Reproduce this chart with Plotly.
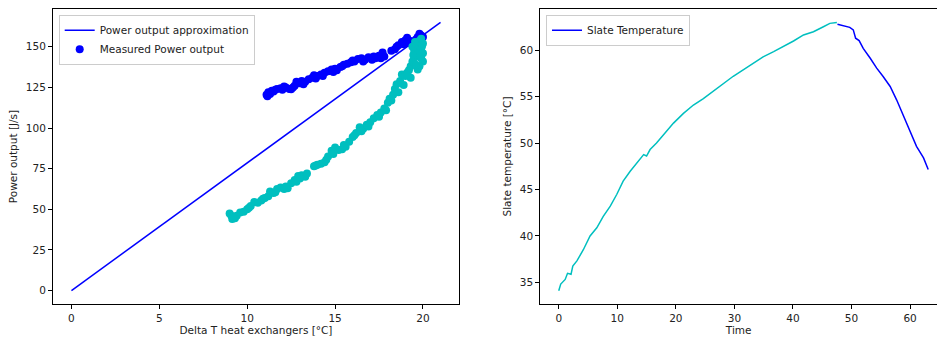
import plotly.graph_objects as go

# ---- Left panel data ----
approx_x = [0, 21]
approx_y = [0, 165]

meas_hot_x = [11.1, 11.2, 11.3, 11.4, 11.5, 11.7, 11.9, 12.0, 12.2, 12.4, 12.5, 12.7, 12.8, 13.0,
              13.1, 13.3, 13.5, 13.7, 13.9, 14.0, 14.2, 14.4, 14.6, 14.8, 15.0, 15.1, 15.3, 15.5,
              15.7, 15.9, 16.1, 16.3, 16.5, 16.7, 16.9, 17.1, 17.3, 17.5, 17.7, 17.8, 18.2, 18.4,
              18.6, 18.8, 19.0, 19.1, 19.3, 19.5, 19.7, 19.8, 19.9, 20.0,
              11.15, 11.6, 12.1, 12.6, 13.2, 13.8, 14.3, 14.9, 15.4, 16.0, 16.6, 17.2, 17.6,
              18.5, 18.9, 19.2, 19.6, 19.4]
meas_hot_y = [120.5, 122, 121, 123, 122.5, 124, 124.5, 123.5, 125, 124, 123.8, 126, 128.5, 127.5,
              129, 128.5, 130, 131, 130.5, 132, 133, 134, 135, 136, 136.5, 135.5, 137.5, 139,
              139.5, 140.5, 141, 142.5, 143, 142, 143.5, 142, 143, 144.5, 146.5, 144, 147.5, 148.5,
              151, 153, 154, 155.5, 153.5, 152, 156, 158, 157, 156,
              119.5, 123.5, 125.5, 125, 127, 132.5, 132, 134.5, 138, 141.5, 141, 144, 143,
              150, 151.5, 152.5, 154.5, 151]

meas_cool_x = [9.0, 9.1, 9.2, 9.3, 9.4, 9.6, 9.8, 10.0, 10.2, 10.4, 10.6, 10.8, 11.0, 11.2, 11.3,
               11.5, 11.7, 11.9, 12.1, 12.3, 12.5, 12.7, 12.9, 13.1, 13.3, 13.4, 13.8, 14.0, 14.2,
               14.4, 14.6, 14.8, 15.0, 15.2, 15.4, 15.6, 15.8, 16.0, 16.2, 16.4, 16.6, 16.8, 17.0,
               17.2, 17.4, 17.6, 17.8, 18.0, 18.1, 18.3, 18.4, 18.5, 18.7, 18.8, 19.0, 19.2, 19.3,
               19.4, 19.5, 19.6, 19.7, 19.6, 19.8, 19.9, 20.0, 19.9, 20.0, 19.9, 20.0, 19.8, 19.7,
               19.5, 19.4, 19.6, 19.3,
               9.15, 10.1, 10.9, 11.6, 12.2, 12.8, 13.0, 13.9, 14.5, 14.9, 15.5, 16.1, 16.5,
               16.9, 17.5, 17.9, 18.2, 18.6, 18.9, 19.1, 19.45, 19.75, 19.85, 19.55, 19.95]
meas_cool_y = [47.5, 46, 45, 44.5, 46, 48, 48.5, 50, 52, 54.5, 54, 55.5, 57, 58, 61,
               60, 62.5, 63.5, 62.5, 63, 66, 68, 70.5, 71, 70, 72, 76.5, 77.5, 78,
               79, 82.5, 86, 88, 86.5, 87, 88.5, 91.5, 94.5, 97, 100.5, 99.5, 102, 103.5,
               106, 108, 109.5, 112, 115.5, 118, 120.5, 124, 127, 129, 133, 132, 135.5, 138,
               141, 143, 146, 149, 151.5, 153.5, 155, 152, 149, 146, 143, 141, 138, 136,
               147.5, 150, 139, 131,
               44, 51, 56.5, 60.5, 64, 67, 69, 77, 80.5, 84, 89.5, 95.5, 98,
               101, 107, 111, 117, 122, 126.5, 134, 145, 151, 147, 153, 150.5]

# ---- Right panel data ----
heat_t = [0, 0.34, 1.1, 1.5, 2.1, 2.4, 3.1, 4.2, 5.35, 6.5, 7.6, 8.8, 9.9, 11.0, 12.2, 13.3,
          14.5, 15.0, 15.6, 16.7, 17.9, 19.0, 19.6, 21.3, 23.0, 24.7, 26.4, 28.1, 29.8, 31.5,
          33.2, 34.9, 36.7, 38.4, 40.1, 41.8, 43.5, 45.2, 46.3, 47.5]
heat_T = [34.07, 34.8, 35.3, 35.96, 35.86, 36.75, 37.3, 38.5, 39.98, 40.87, 42.1, 43.2, 44.45,
          45.9, 46.96, 47.86, 48.75, 48.6, 49.3, 50.0, 50.9, 51.6, 52.15, 53.2, 54.1, 54.8,
          55.6, 56.45, 57.2, 57.9, 58.6, 59.3, 59.86, 60.4, 61.0, 61.65, 62.0, 62.54, 62.9, 63.0]

cool_t = [47.6, 48.6, 49.7, 50.3, 50.7, 51.3, 52.0, 53.2, 54.3, 55.4, 56.6, 57.7, 58.8, 60.0,
          61.1, 62.3, 63.1]
cool_T = [62.8, 62.65, 62.47, 62.2, 61.3, 61.04, 60.2, 59.14, 58.07, 57.17, 56.1, 54.66, 53.05,
          51.26, 49.65, 48.4, 47.14]

BLUE = "#0000ff"
CYAN = "#00bfbf"
FONT = "DejaVu Sans"
FS = 10.5
TXT = "#222"

fig = go.Figure()
fig.add_trace(go.Scatter(x=approx_x, y=approx_y, mode="lines", line=dict(color=BLUE, width=1.5),
                         name="Power output approximation", xaxis="x", yaxis="y", legend="legend"))
fig.add_trace(go.Scatter(x=meas_hot_x, y=meas_hot_y, mode="markers",
                         marker=dict(color=BLUE, size=8, line=dict(width=0)),
                         name="Measured Power output", xaxis="x", yaxis="y", legend="legend"))
fig.add_trace(go.Scatter(x=meas_cool_x, y=meas_cool_y, mode="markers",
                         marker=dict(color=CYAN, size=8, line=dict(width=0)),
                         showlegend=False, xaxis="x", yaxis="y"))
fig.add_trace(go.Scatter(x=heat_t, y=heat_T, mode="lines", line=dict(color=CYAN, width=1.5),
                         showlegend=False, xaxis="x2", yaxis="y2"))
fig.add_trace(go.Scatter(x=cool_t, y=cool_T, mode="lines", line=dict(color=BLUE, width=1.5),
                         name="Slate Temperature", xaxis="x2", yaxis="y2", legend="legend2"))

W, H = 937, 340
tfont = dict(family=FONT, size=FS, color=TXT)
axis_common = dict(showgrid=False, zeroline=False, showline=True, linecolor="black", linewidth=1,
                   ticks="outside", ticklen=4, tickwidth=1, tickcolor="black",
                   tickfont=tfont)
ydom = [1 - 304 / H, 1 - 9 / H]

fig.update_layout(
    width=W, height=H,
    margin=dict(l=0, r=0, t=0, b=0),
    paper_bgcolor="white", plot_bgcolor="white",
    font=tfont,
    xaxis=dict(axis_common, domain=[53 / W, 459 / W], range=[-1.05, 22.05], mirror=True,
               tickvals=[0, 5, 10, 15, 20],
               title=dict(text="Delta T heat exchangers [°C]", standoff=4, font=tfont)),
    yaxis=dict(axis_common, domain=ydom, range=[-8.25, 173.25], mirror=True,
               tickvals=[0, 25, 50, 75, 100, 125, 150],
               title=dict(text="Power output [J/s]", standoff=6, font=tfont)),
    xaxis2=dict(axis_common, domain=[540.3 / W, 1.0], range=[-3.15, 64.6], mirror=True,
                anchor="y2", tickvals=[0, 10, 20, 30, 40, 50, 60],
                title=dict(text="Time", standoff=4, font=tfont)),
    yaxis2=dict(axis_common, domain=ydom, range=[32.65, 64.45], mirror=False,
                anchor="x2", tickvals=[35, 40, 45, 50, 55, 60],
                title=dict(text="Slate temperature [°C]", standoff=6, font=tfont)),
    legend=dict(x=58.7 / W, y=1 - 14.7 / H, xanchor="left", yanchor="top",
                bgcolor="rgba(255,255,255,0.8)", bordercolor="#cccccc", borderwidth=1,
                font=tfont, tracegroupgap=0),
    legend2=dict(x=546 / W, y=1 - 14.7 / H, xanchor="left", yanchor="top",
                 bgcolor="rgba(255,255,255,0.8)", bordercolor="#cccccc", borderwidth=1,
                 font=tfont),
)

fig.write_html("out.html")
